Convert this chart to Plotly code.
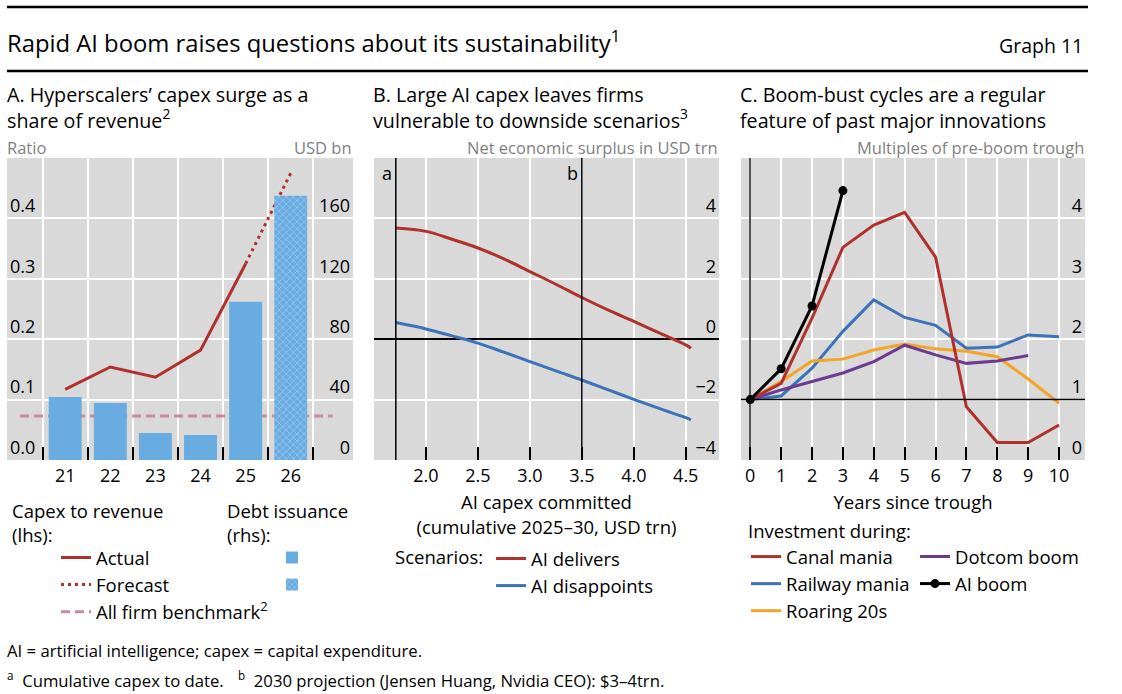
import plotly.graph_objects as go

W, H = 1122, 694
def px(x):
    return x / W
def py(y):
    return 1 - y / H

FONT = "Open Sans"

# ---------------- Panel A data ----------------
years = [21, 22, 23, 24, 25, 26]
year_labels = ["21", "22", "23", "24", "25", "26"]
debt_years_actual = [21, 22, 23, 24, 25]
debt_issuance_actual = [41.8, 37.8, 17.9, 16.6, 104.8]   # USD bn (rhs)
debt_years_forecast = [26]
debt_issuance_forecast = [175.0]
actual_years = [21, 22, 23, 24, 25]
capex_ratio_actual = [0.117, 0.154, 0.137, 0.182, 0.325]  # lhs
forecast_years = [25, 26]
capex_ratio_forecast = [0.325, 0.475]
benchmark_span = [20.0, 26.93]
benchmark_ratio = [0.073, 0.073]
a_left_ticks = [0.0, 0.1, 0.2, 0.3, 0.4]
a_right_ticks = [0, 40, 80, 120, 160]

# ---------------- Panel B data ----------------
capex_committed = [1.71, 2.0, 2.25, 2.5, 2.75, 3.0, 3.25, 3.5, 3.75, 4.0, 4.25, 4.5, 4.55]
ai_delivers = [3.68, 3.57, 3.31, 3.02, 2.66, 2.24, 1.82, 1.38, 0.97, 0.59, 0.20, -0.19, -0.30]
ai_disappoints = [0.55, 0.34, 0.11, -0.13, -0.43, -0.74, -1.05, -1.35, -1.67, -1.99, -2.30, -2.60, -2.67]
b_markers = [("a", 1.71), ("b", 3.5)]
b_x_ticks = [2.0, 2.5, 3.0, 3.5, 4.0, 4.5]
b_y_ticks = [-4, -2, 0, 2, 4]

# ---------------- Panel C data ----------------
years_since = list(range(11))
canal_mania = [1.0, 1.27, 2.35, 3.52, 3.89, 4.10, 3.36, 0.88, 0.29, 0.29, 0.58]
railway_mania = [1.0, 1.06, 1.52, 2.13, 2.65, 2.36, 2.23, 1.85, 1.87, 2.07, 2.04]
roaring_20s = [1.0, 1.30, 1.64, 1.67, 1.82, 1.92, 1.84, 1.80, 1.71, 1.34, 0.94]
dotcom_boom = [1.0, 1.16, 1.30, 1.44, 1.63, 1.90, 1.74, 1.60, 1.64, 1.73]
ai_boom = [1.0, 1.51, 2.55, 4.46]
c_baseline = 1.0
c_y_ticks = [0, 1, 2, 3, 4]

RED = "#b0302e"
BLUE = "#3d72b8"
BAR = "#68ace2"
ORANGE = "#f2a526"
PURPLE = "#6b3c8e"
PINK = "#c98b9c"
GRID = "white"
BG = "#d9d9d9"

TICK = 18
LEG = 18.5

fig = go.Figure()

# Panel A
fig.add_trace(go.Bar(x=debt_years_actual, y=debt_issuance_actual, width=0.73,
                     marker=dict(color=BAR, line=dict(width=0)),
                     name=" ", xaxis="x", yaxis="y4", legend="legend2",
                     legendgroup="b1", showlegend=True))
fig.add_trace(go.Bar(x=debt_years_forecast, y=debt_issuance_forecast, width=0.73,
                     marker=dict(color=BAR, line=dict(width=0),
                                 pattern=dict(shape="x", fgcolor="#cfe0f0", bgcolor=BAR,
                                              size=5, solidity=0.3)),
                     name=" ", xaxis="x", yaxis="y4", legend="legend2",
                     legendgroup="b2", showlegend=True))
fig.add_trace(go.Scatter(x=benchmark_span, y=benchmark_ratio, mode="lines",
                         line=dict(color=PINK, width=3, dash="9px,5px"),
                         name="All firm benchmark<sup>2</sup>", xaxis="x", yaxis="y",
                         legend="legend", legendgroup="l3", legendrank=3))
fig.add_trace(go.Scatter(x=actual_years, y=capex_ratio_actual, mode="lines",
                         line=dict(color=RED, width=3),
                         name="Actual", xaxis="x", yaxis="y",
                         legend="legend", legendgroup="l1", legendrank=1))
fig.add_trace(go.Scatter(x=forecast_years, y=capex_ratio_forecast, mode="lines",
                         line=dict(color=RED, width=3, dash="3px,4px"),
                         name="Forecast", xaxis="x", yaxis="y",
                         legend="legend", legendgroup="l2", legendrank=2))

# Panel B
fig.add_trace(go.Scatter(x=capex_committed, y=ai_delivers, mode="lines",
                         line=dict(color=RED, width=3, shape="spline"),
                         name="AI delivers", xaxis="x2", yaxis="y2",
                         legend="legend3", legendgroup="s1"))
fig.add_trace(go.Scatter(x=capex_committed, y=ai_disappoints, mode="lines",
                         line=dict(color=BLUE, width=3, shape="spline"),
                         name="AI disappoints", xaxis="x2", yaxis="y2",
                         legend="legend3", legendgroup="s2"))

# Panel C
fig.add_trace(go.Scatter(x=years_since, y=railway_mania, mode="lines",
                         line=dict(color=BLUE, width=3), name="Railway mania",
                         xaxis="x3", yaxis="y3", legend="legend4", legendgroup="c2", legendrank=2))
fig.add_trace(go.Scatter(x=years_since, y=roaring_20s, mode="lines",
                         line=dict(color=ORANGE, width=3), name="Roaring 20s",
                         xaxis="x3", yaxis="y3", legend="legend4", legendgroup="c3", legendrank=3))
fig.add_trace(go.Scatter(x=years_since[:len(dotcom_boom)], y=dotcom_boom, mode="lines",
                         line=dict(color=PURPLE, width=3), name="Dotcom boom",
                         xaxis="x3", yaxis="y3", legend="legend5", legendgroup="c4", legendrank=1))
fig.add_trace(go.Scatter(x=years_since, y=canal_mania, mode="lines",
                         line=dict(color=RED, width=3), name="Canal mania",
                         xaxis="x3", yaxis="y3", legend="legend4", legendgroup="c1", legendrank=1))
fig.add_trace(go.Scatter(x=years_since[:len(ai_boom)], y=ai_boom, mode="lines+markers",
                         line=dict(color="black", width=3), marker=dict(color="black", size=9),
                         name="AI boom", xaxis="x3", yaxis="y3", legend="legend5",
                         legendgroup="c5", legendrank=2))

tickfont = dict(family=FONT, size=TICK, color="black")
dom_y = [py(460), py(158)]

def xax(domain, rng, tickvals, **kw):
    d = dict(domain=domain, range=rng, tickvals=tickvals, tickfont=tickfont,
             showline=False, zeroline=False, showgrid=True, gridcolor=GRID, gridwidth=1.5,
             ticks="inside", ticklen=13, tickwidth=2, tickcolor="black", fixedrange=True,
             ticklabelstandoff=3)
    d.update(kw)
    return d

def yax(rng, tickvals, side, anchor, **kw):
    d = dict(domain=dom_y, range=rng, tickvals=tickvals, tickfont=tickfont, side=side,
             anchor=anchor, ticklabelposition="inside top", showline=False, zeroline=False,
             showgrid=True, gridcolor=GRID, gridwidth=1.5, ticks="", fixedrange=True)
    d.update(kw)
    return d

layout = dict(
    width=W, height=H, margin=dict(l=0, r=0, t=0, b=0),
    paper_bgcolor="white", plot_bgcolor=BG, barmode="overlay",
    font=dict(family=FONT, size=LEG, color="black"),
    xaxis=xax([px(7), px(353)], [19.71, 27.38], years, ticktext=year_labels, ticks="",
              showgrid=False, anchor="y",
              minor=dict(tick0=20.5, dtick=1, ticks="inside", ticklen=13, tickwidth=2,
                         tickcolor="black", showgrid=True, gridcolor=GRID, gridwidth=1.5)),
    yaxis=yax([0, 0.5], a_left_ticks, "left", "x", tickformat=".1f"),
    yaxis4=yax([0, 200], a_right_ticks, "right", "x", overlaying="y", showgrid=False),
    xaxis2=xax([px(374), px(719)], [1.5, 4.82], b_x_ticks, tickformat=".1f", anchor="y2",
               title=dict(text="AI capex committed<br>(cumulative 2025–30, USD trn)",
                          font=dict(size=LEG), standoff=10)),
    yaxis2=yax([-4, 6], b_y_ticks, "right", "x2", zeroline=True, zerolinecolor="black",
               zerolinewidth=1.5),
    xaxis3=xax([px(741), px(1085)], [-0.3, 10.84], years_since, anchor="y3",
               zeroline=True, zerolinecolor="#555555", zerolinewidth=2,
               title=dict(text="Years since trough", font=dict(size=LEG), standoff=10)),
    yaxis3=yax([0, 5], c_y_ticks, "right", "x3"),
)

legend_common = dict(font=dict(family=FONT, size=LEG), bgcolor="rgba(0,0,0,0)",
                     traceorder="grouped", tracegroupgap=0, xanchor="left", yanchor="top",
                     itemwidth=30, orientation="v", itemclick=False, itemdoubleclick=False)
layout["legend"] = dict(legend_common, x=px(56), y=py(539))
layout["legend2"] = dict(legend_common, x=px(272), y=py(539))
layout["legend3"] = dict(legend_common, x=px(393), y=py(540),
                         title=dict(text="Scenarios:", side="left", font=dict(size=LEG)))
layout["legend4"] = dict(legend_common, x=px(746), y=py(514),
                         title=dict(text="Investment during:", side="top", font=dict(size=LEG)))
layout["legend5"] = dict(legend_common, x=px(915), y=py(538))

fig.update_layout(**layout)

# Reference lines in panels B and C
for label, xv in b_markers:
    fig.add_shape(type="line", xref="x2", yref="y2 domain", x0=xv, x1=xv, y0=0, y1=1,
                  line=dict(color="black", width=1.5), layer="above")
    fig.add_annotation(xref="x2", yref="y2 domain", x=xv, y=1, text=label, showarrow=False,
                       xanchor="right", yanchor="top", xshift=-2, yshift=-1,
                       font=dict(size=TICK))
fig.add_shape(type="line", xref="x3 domain", yref="y3", x0=0, x1=1, y0=c_baseline, y1=c_baseline,
              line=dict(color="black", width=1.5), layer="above")

# Header rules
for yy in (7, 71):
    fig.add_shape(type="line", xref="paper", yref="paper", x0=px(7), x1=px(1088),
                  y0=py(yy), y1=py(yy), line=dict(color="black", width=2.5))

def ann(x, y, text, size, color="black", xanchor="left", yanchor="middle", align="left"):
    fig.add_annotation(xref="paper", yref="paper", x=px(x), y=py(y), text=text,
                       showarrow=False, xanchor=xanchor, yanchor=yanchor, align=align,
                       font=dict(family=FONT, size=size, color=color))

ann(5, 42, "Rapid AI boom raises questions about its sustainability<sup>1</sup>", 23.8)
ann(1085, 45, "Graph 11", 19.5, xanchor="right")

ann(5, 107, "A. Hyperscalers’ capex surge as a<br>share of revenue<sup>2</sup>", 19.7)
ann(371, 107, "B. Large AI capex leaves firms<br>vulnerable to downside scenarios<sup>3</sup>", 19.7)
ann(738, 107, "C. Boom-bust cycles are a regular<br>feature of past major innovations", 19.7)

UNIT = "#7f7f7f"
ann(5, 147, "Ratio", 16.5, UNIT)
ann(354, 147, "USD bn", 16.5, UNIT, xanchor="right")
ann(720, 147, "Net economic surplus in USD trn", 16.5, UNIT, xanchor="right")
ann(1086, 147, "Multiples of pre-boom trough", 16.5, UNIT, xanchor="right")

ann(10, 522, "Capex to revenue<br>(lhs):", LEG)
ann(225, 522, "Debt issuance<br>(rhs):", LEG)

ann(5, 650, "AI = artificial intelligence; capex = capital expenditure.", 16.7)
ann(5, 680, "<sup>a</sup>  Cumulative capex to date.", 16.7)
ann(236, 680, "<sup>b</sup>  2030 projection (Jensen Huang, Nvidia CEO): $3–4trn.", 16.7)

fig.write_html("out.html", post_script="document.body.style.margin='0px';",
               config={"displayModeBar": False})
